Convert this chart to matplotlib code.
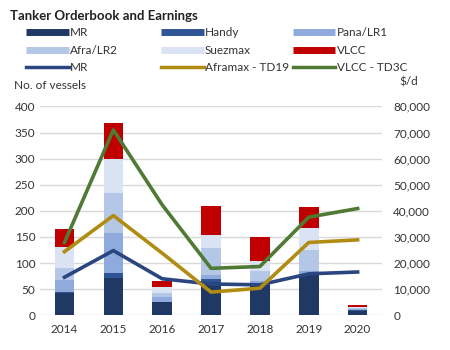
import matplotlib.pyplot as plt
import numpy as np
from matplotlib.lines import Line2D
from matplotlib.ticker import FuncFormatter

plt.rcParams['font.family'] = ['Lato', 'DejaVu Sans']

years = ["2014", "2015", "2016", "2017", "2018", "2019", "2020"]

# orderbook (no. of vessels), stacked
mr      = [42, 72, 26, 64, 62, 80, 8]
handy   = [2, 9, 0, 6, 0, 0, 2]
pana    = [24, 76, 10, 8, 4, 5, 2]
afra    = [22, 78, 6, 50, 18, 40, 2]
suezmax = [40, 65, 12, 26, 20, 42, 2]
vlcc    = [35, 68, 12, 56, 46, 41, 3]

# earnings ($/d)
mr_earn   = [14600, 24800, 14000, 12000, 11700, 15900, 16600]
td19_earn = [24400, 38200, 23800, 8900, 10400, 27900, 28900]
td3c_earn = [27900, 71000, 42300, 18000, 18700, 37600, 40900]

bar_series = [
    ("MR", mr, "#1f3864"),
    ("Handy", handy, "#2f5597"),
    ("Pana/LR1", pana, "#8faadc"),
    ("Afra/LR2", afra, "#b4c7e7"),
    ("Suezmax", suezmax, "#dae3f3"),
    ("VLCC", vlcc, "#c00000"),
]
line_series = [
    ("MR", mr_earn, "#2a4680"),
    ("Aframax - TD19", td19_earn, "#b08d12"),
    ("VLCC - TD3C", td3c_earn, "#4f7a33"),
]

fig = plt.figure(figsize=(4.5, 3.5), dpi=100)
ax = fig.add_axes([0.089, 0.099, 0.760, 0.597])
ax2 = ax.twinx()

x = np.arange(len(years))
bottom = np.zeros(len(years))
for name, vals, col in bar_series:
    ax.bar(x, vals, 0.4, bottom=bottom, color=col, zorder=2)
    bottom += np.array(vals)

for name, vals, col in line_series:
    ax2.plot(x, vals, color=col, lw=2.6, zorder=3)

ax.set_xlim(-0.5, 6.5)
ax.set_ylim(0, 400)
ax.set_yticks(range(0, 401, 50))
ax2.set_ylim(0, 80000)
ax2.set_yticks(range(0, 80001, 10000))
ax2.yaxis.set_major_formatter(FuncFormatter(lambda v, p: f"{int(v):,}"))
ax.set_xticks(x)
ax.set_xticklabels(years)
ax.grid(axis="y", color="#d9d9d9", lw=1, zorder=0)
ax.set_axisbelow(True)

for a in (ax, ax2):
    for s in a.spines.values():
        s.set_visible(False)
    a.tick_params(length=0, labelsize=8.5, colors="#333333")
ax.tick_params(axis="x", pad=6)
ax2.tick_params(pad=8)

fig.text(0.022, 0.955, "Tanker Orderbook and Earnings", fontsize=9.5,
         fontweight="bold", color="#222222", va="center")
fig.text(0.03, 0.757, "No. of vessels", fontsize=8.5, color="#333333", va="center")
fig.text(0.888, 0.765, "$/d", fontsize=8.5, color="#333333", va="center")

handles = []
labels = []
for name, vals, col in bar_series:
    handles.append(Line2D([], [], color=col, lw=5, solid_capstyle="butt"))
    labels.append(name)
for name, vals, col in line_series:
    handles.append(Line2D([], [], color=col, lw=2.5))
    labels.append(name)

# three fixed-width legend columns, filled row by row
col_x = [0.058, 0.358, 0.651]
for c in range(3):
    idx = [c, c + 3, c + 6]
    fig.legend([handles[i] for i in idx], [labels[i] for i in idx],
               loc="upper left", bbox_to_anchor=(col_x[c], 0.922),
               frameon=False, fontsize=8.5, handlelength=3.6,
               handletextpad=0.1, labelspacing=0.55, borderaxespad=0,
               borderpad=0, labelcolor="#333333")

fig.savefig("out.png", dpi=100)
